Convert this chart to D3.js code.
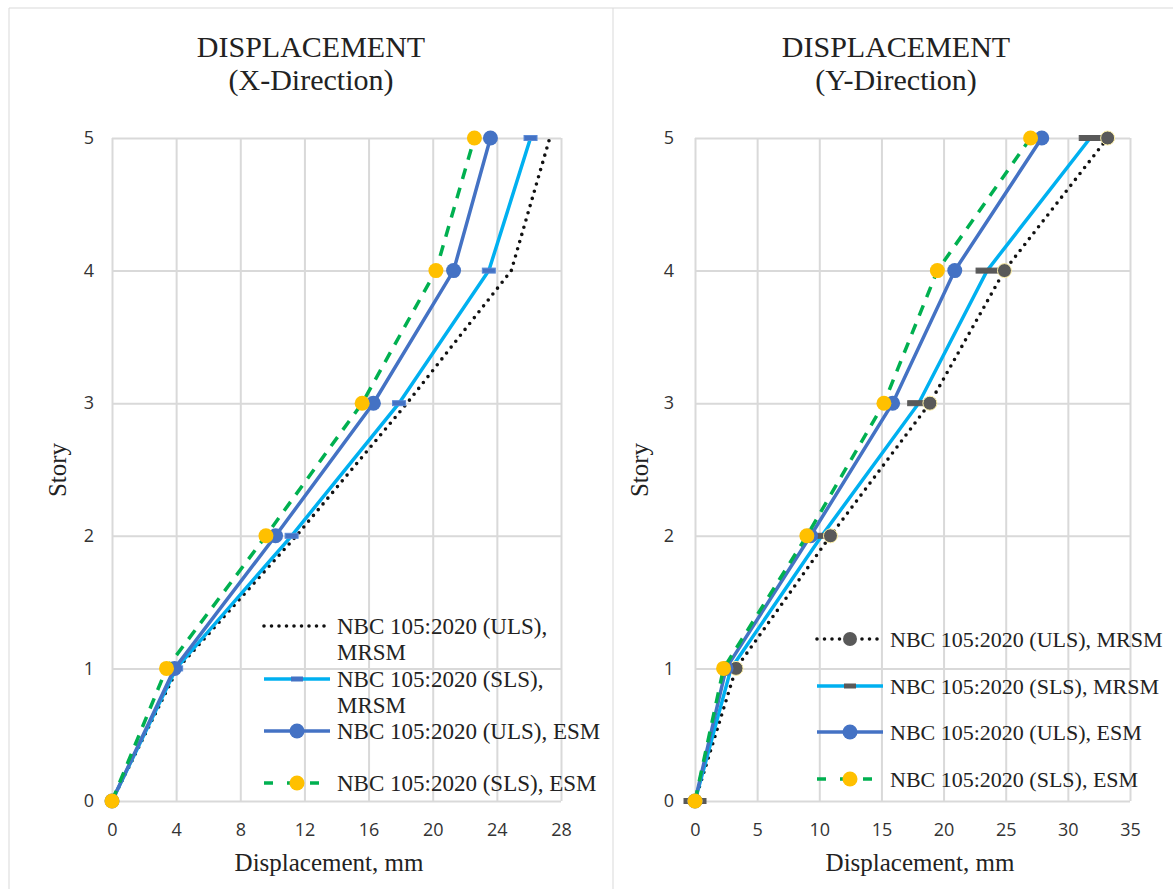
<!DOCTYPE html>
<html>
<head>
<meta charset="utf-8">
<script src="https://cdn.jsdelivr.net/npm/d3@7"></script>
<style>
  body { margin: 0; background: #fff; }
  svg { display: block; }
</style>
</head>
<body>
<svg id="chart" width="1173" height="889"></svg>
<script>
// story levels
var stories = [0, 1, 2, 3, 4, 5];

// X-direction displacements, mm
var xUlsMrsm = [0, 4.1, 11.5, 18.4, 24.9, 27.3];
var xSlsMrsm = [0, 4.0, 11.2, 17.9, 23.5, 26.1];
var xUlsEsm  = [0, 3.9, 10.2, 16.3, 21.3, 23.6];
var xSlsEsm  = [0, 3.4, 9.6, 15.6, 20.2, 22.6];

// Y-direction displacements, mm
var yUlsMrsm = [0, 3.3, 10.9, 18.9, 24.9, 33.2];
var ySlsMrsm = [0, 2.9, 10.2, 18.0, 23.5, 31.8];
var yUlsEsm  = [0, 2.5, 9.3, 15.9, 20.9, 27.9];
var ySlsEsm  = [0, 2.3, 9.0, 15.2, 19.5, 27.0];

var xTicksLeft = [0, 4, 8, 12, 16, 20, 24, 28];
var xTicksRight = [0, 5, 10, 15, 20, 25, 30, 35];

var seriesNames = ["NBC 105:2020 (ULS), MRSM", "NBC 105:2020 (SLS), MRSM",
                   "NBC 105:2020 (ULS), ESM", "NBC 105:2020 (SLS), ESM"];

var serif = "'Liberation Serif', 'Times New Roman', serif";
var sans = "'Open Sans', 'Noto Sans', sans-serif";
var grid = "#d9d9d9";

var svg = d3.select("#chart");

// panel borders
svg.append("line").attr("x1", 9).attr("x2", 9).attr("y1", 8).attr("y2", 889).attr("stroke", grid);
svg.append("line").attr("x1", 613).attr("x2", 613).attr("y1", 8).attr("y2", 889).attr("stroke", grid);
svg.append("line").attr("x1", 9).attr("x2", 1173).attr("y1", 8).attr("y2", 8).attr("stroke", grid);

function drawPanel(p) {
    var x = d3.scaleLinear().domain(p.xDomain).range(p.xRange);
    var y = d3.scaleLinear().domain([0, 5]).range([801, 138]);
    var g = svg.append("g");
    var h = y(0) - y(5), w = x.range()[1] - x.range()[0];

    // gridlines + tick labels
    var xa = g.append("g")
        .attr("transform", "translate(0," + y(0) + ")")
        .call(d3.axisBottom(x).tickValues(p.xTicks).tickSize(-h).tickPadding(22).tickFormat(d3.format("d")));
    var ya = g.append("g")
        .attr("transform", "translate(" + x.range()[0] + ",0)")
        .call(d3.axisLeft(y).tickValues(stories).tickSize(-w).tickPadding(p.yPad).tickFormat(d3.format("d")));
    [xa, ya].forEach(function(a) {
        a.select(".domain").remove();
        a.selectAll("line").attr("stroke", grid).attr("stroke-width", 2);
        a.selectAll("text").attr("font-family", sans).attr("font-size", 18).attr("fill", "#333");
    });

    // titles
    g.append("text").attr("x", p.titleX).attr("y", 57).attr("text-anchor", "middle")
        .attr("font-family", serif).attr("font-size", 30).attr("fill", "#222").text("DISPLACEMENT");
    g.append("text").attr("x", p.titleX).attr("y", 90).attr("text-anchor", "middle")
        .attr("font-family", serif).attr("font-size", 30).attr("fill", "#222").text(p.sub);
    g.append("text").attr("x", p.axisTitleX).attr("y", 871).attr("text-anchor", "middle")
        .attr("font-family", serif).attr("font-size", 25).attr("fill", "#222").text("Displacement, mm");
    g.append("text").attr("transform", "translate(" + p.storyX + ",470)rotate(-90)")
        .attr("text-anchor", "middle").attr("font-family", serif).attr("font-size", 25)
        .attr("fill", "#222").text("Story");

    var line = d3.line().x(function(d) { return x(d[0]); }).y(function(d) { return y(d[1]); });
    function pts(vals) { return vals.map(function(v, i) { return [v, stories[i]]; }); }

    // ULS MRSM - dotted black
    g.append("path").datum(pts(p.ulsMrsm)).attr("d", line).attr("fill", "none")
        .attr("stroke", "#111").attr("stroke-width", 3.6).attr("stroke-linecap", "round")
        .attr("stroke-dasharray", "0,7.5");
    // SLS MRSM - light blue
    g.append("path").datum(pts(p.slsMrsm)).attr("d", line).attr("fill", "none")
        .attr("stroke", "#00b0f0").attr("stroke-width", 3.5);
    g.selectAll(".dash").data(pts(p.slsMrsm)).enter().append("rect")
        .attr("x", function(d) { return x(d[0]) - p.dashW / 2; })
        .attr("y", function(d) { return y(d[1]) - 2.5; })
        .attr("width", p.dashW).attr("height", 5)
        .attr("fill", p.dashFill).attr("stroke", p.dashStroke).attr("stroke-width", 1);
    if (p.mrsmDots) {
        g.selectAll(".mdot").data(pts(p.ulsMrsm)).enter().append("circle")
            .attr("cx", function(d) { return x(d[0]); }).attr("cy", function(d) { return y(d[1]); })
            .attr("r", 7).attr("fill", "#595959").attr("stroke", "#fff2a8").attr("stroke-width", 1);
    }
    // ULS ESM - blue with markers
    g.append("path").datum(pts(p.ulsEsm)).attr("d", line).attr("fill", "none")
        .attr("stroke", "#4472c4").attr("stroke-width", 3.5);
    g.selectAll(".bdot").data(pts(p.ulsEsm)).enter().append("circle")
        .attr("cx", function(d) { return x(d[0]); }).attr("cy", function(d) { return y(d[1]); })
        .attr("r", 7.5).attr("fill", "#4472c4");
    // SLS ESM - dashed green, yellow markers
    g.append("path").datum(pts(p.slsEsm)).attr("d", line).attr("fill", "none")
        .attr("stroke", "#00b050").attr("stroke-width", 3.5).attr("stroke-dasharray", "11,9");
    g.selectAll(".ydot").data(pts(p.slsEsm)).enter().append("circle")
        .attr("cx", function(d) { return x(d[0]); }).attr("cy", function(d) { return y(d[1]); })
        .attr("r", 7.5).attr("fill", "#ffc000");

    // legend
    var lg = g.append("g");
    p.legendRows.forEach(function(r, i) {
        var x0 = p.legX, x1 = p.legX + 66, xm = (x0 + x1) / 2;
        if (i === 0) {
            lg.append("line").attr("x1", x0).attr("x2", x1).attr("y1", r).attr("y2", r)
                .attr("stroke", "#111").attr("stroke-width", 3.6).attr("stroke-linecap", "round")
                .attr("stroke-dasharray", "0,7.5");
            if (p.mrsmDots) lg.append("circle").attr("cx", xm).attr("cy", r).attr("r", 7).attr("fill", "#595959");
        } else if (i === 1) {
            lg.append("line").attr("x1", x0).attr("x2", x1).attr("y1", r).attr("y2", r)
                .attr("stroke", "#00b0f0").attr("stroke-width", 3.5);
            lg.append("rect").attr("x", xm - 6).attr("y", r - 2.5).attr("width", 12).attr("height", 5)
                .attr("fill", p.dashFill);
        } else if (i === 2) {
            lg.append("line").attr("x1", x0).attr("x2", x1).attr("y1", r).attr("y2", r)
                .attr("stroke", "#4472c4").attr("stroke-width", 3.5);
            lg.append("circle").attr("cx", xm).attr("cy", r).attr("r", 7.5).attr("fill", "#4472c4");
        } else {
            lg.append("line").attr("x1", x0).attr("x2", x1).attr("y1", r).attr("y2", r)
                .attr("stroke", "#00b050").attr("stroke-width", 3.5).attr("stroke-dasharray", "9,14");
            lg.append("circle").attr("cx", xm).attr("cy", r).attr("r", 7.5).attr("fill", "#ffc000");
        }
        var lines = p.wrap && i < 2 ? [seriesNames[i].split(" MRSM")[0], "MRSM"] : [seriesNames[i]];
        lines.forEach(function(t, j) {
            lg.append("text").attr("x", x1 + 7).attr("y", r + j * 26).attr("dy", "0.35em")
                .attr("font-family", serif).attr("font-size", p.legSize).attr("fill", "#222").text(t);
        });
    });
}

drawPanel({
    xDomain: [0, 28], xRange: [112, 561], xTicks: xTicksLeft, yPad: 18,
    titleX: 311, sub: "(X-Direction)", axisTitleX: 329, storyX: 66,
    ulsMrsm: xUlsMrsm, slsMrsm: xSlsMrsm, ulsEsm: xUlsEsm, slsEsm: xSlsEsm,
    dashW: 13, dashFill: "#4472c4", dashStroke: "#5b8bd8", mrsmDots: false,
    legendRows: [626, 679, 731, 783], legX: 264, wrap: true, legSize: 23
});

drawPanel({
    xDomain: [0, 35], xRange: [695, 1130], xTicks: xTicksRight, yPad: 21,
    titleX: 896, sub: "(Y-Direction)", axisTitleX: 920, storyX: 648,
    ulsMrsm: yUlsMrsm, slsMrsm: ySlsMrsm, ulsEsm: yUlsEsm, slsEsm: ySlsEsm,
    dashW: 22, dashFill: "#595959", dashStroke: "#595959", mrsmDots: true,
    legendRows: [639, 686, 732, 779], legX: 817, wrap: false, legSize: 22
});
</script>
</body>
</html>
